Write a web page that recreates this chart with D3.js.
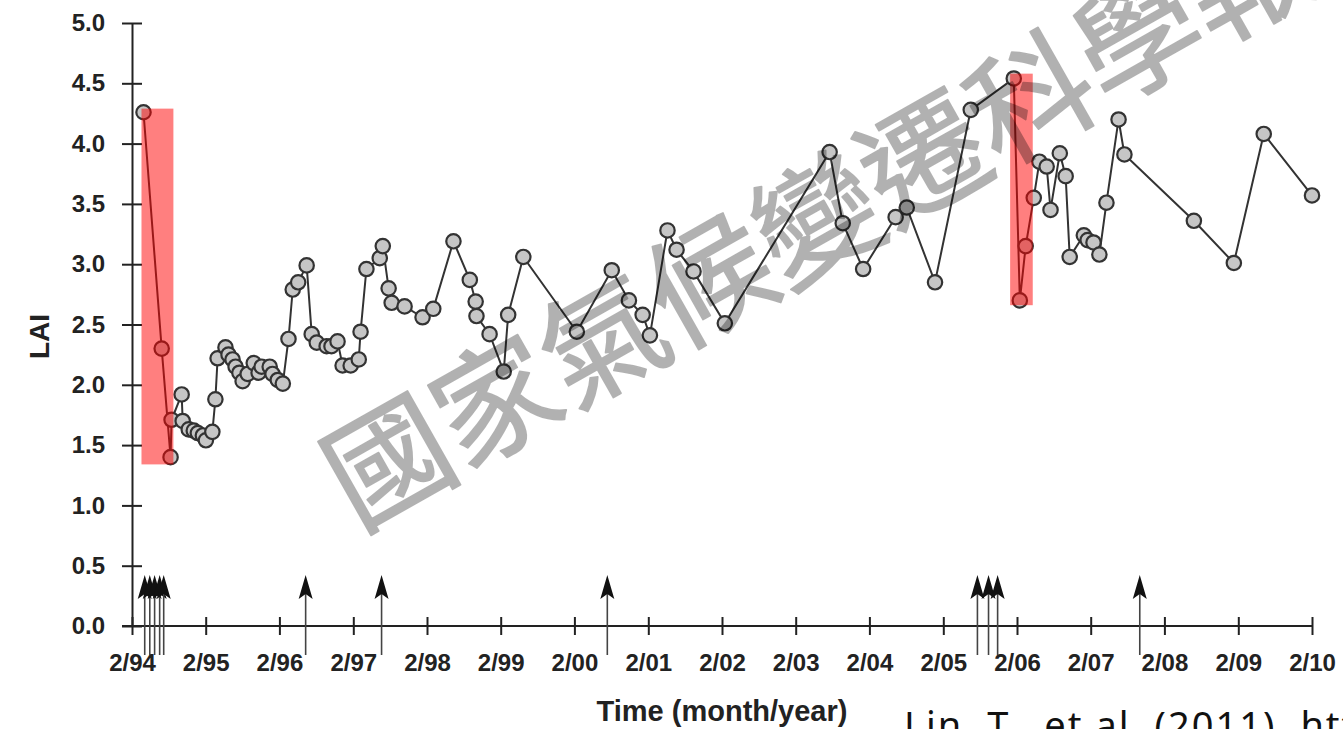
<!DOCTYPE html>
<meta charset="utf-8">
<script src="https://d3js.org/d3.v7.min.js"></script>
<style>
  body { margin: 0; background: #fff; overflow: hidden; }
  .axis text { font-family: "Liberation Sans", Arial, sans-serif; font-weight: bold; font-size: 24px; fill: #222; }
  .axis path, .axis line { stroke: #222; stroke-width: 2; }
  .pt { fill: #c6c6c6; stroke: #333; stroke-width: 2.2; }
</style>
<svg id="chart" width="1343" height="729"></svg>

<script>
  // sampling dates and LAI
  var sampleDates = [
    "1994-03-30", "1994-06-28", "1994-08-11", "1994-08-16", "1994-10-05", "1994-10-10",
    "1994-11-09", "1994-12-04", "1994-12-24", "1995-01-18", "1995-02-02", "1995-03-06",
    "1995-03-21", "1995-04-01", "1995-05-10", "1995-05-25", "1995-06-14", "1995-06-29",
    "1995-07-18", "1995-08-03", "1995-08-28", "1995-09-27", "1995-10-21", "1995-11-05",
    "1995-12-15", "1995-12-29", "1996-01-24", "1996-02-18", "1996-03-17", "1996-04-07",
    "1996-05-04", "1996-06-15", "1996-07-10", "1996-08-04", "1996-09-22", "1996-10-16",
    "1996-11-15", "1996-12-10", "1997-01-19", "1997-02-28", "1997-03-09", "1997-04-07",
    "1997-06-12", "1997-06-27", "1997-07-26", "1997-08-10", "1997-10-13", "1998-01-10",
    "1998-03-04", "1998-06-12", "1998-09-01", "1998-09-30", "1998-10-04", "1998-12-08",
    "1999-02-16", "1999-03-10", "1999-05-24", "2000-02-13", "2000-08-04", "2000-10-28",
    "2001-01-04", "2001-02-09", "2001-05-07", "2001-06-21", "2001-09-13", "2002-02-15",
    "2003-07-19", "2003-09-22", "2004-01-01", "2004-06-10", "2004-08-04", "2004-12-22",
    "2005-06-17", "2006-01-16", "2006-02-15", "2006-03-16", "2006-04-25", "2006-05-23",
    "2006-06-28", "2006-07-17", "2006-09-01", "2006-09-30", "2006-10-20", "2006-12-29",
    "2007-01-17", "2007-02-15", "2007-03-16", "2007-04-20", "2007-06-19", "2007-07-18",
    "2008-06-26", "2009-01-10", "2009-06-07", "2010-02-01"
  ];
  var laiValues = [
    4.26, 2.30, 1.40, 1.71, 1.92, 1.70,
    1.63, 1.62, 1.60, 1.58, 1.54, 1.61,
    1.88, 2.22, 2.31, 2.25, 2.21, 2.15,
    2.10, 2.03, 2.09, 2.18, 2.10, 2.15,
    2.15, 2.09, 2.04, 2.01, 2.38, 2.79,
    2.85, 2.99, 2.42, 2.35, 2.32, 2.32,
    2.36, 2.16, 2.16, 2.21, 2.44, 2.96,
    3.05, 3.15, 2.80, 2.68, 2.65, 2.56,
    2.63, 3.19, 2.87, 2.69, 2.57, 2.42,
    2.11, 2.58, 3.06, 2.44, 2.95, 2.70,
    2.58, 2.41, 3.28, 3.12, 2.94, 2.51,
    3.93, 3.34, 2.96, 3.39, 3.47, 2.85,
    4.28, 4.54, 2.70, 3.15, 3.55, 3.85,
    3.81, 3.45, 3.92, 3.73, 3.06, 3.24,
    3.20, 3.18, 3.08, 3.51, 4.20, 3.91,
    3.36, 3.01, 4.08, 3.57
  ];

  // event arrows along the time axis
  var arrowDates = [
    "1994-04-05", "1994-04-30", "1994-05-24", "1994-06-18", "1994-07-08",
    "1996-06-10", "1997-06-21", "2000-07-13",
    "2005-07-20", "2005-09-13", "2005-10-28", "2007-10-02"
  ];

  // highlighted drops
  var hlStart = ["1994-03-20", "2005-12-29"];
  var hlEnd = ["1994-08-25", "2006-04-20"];
  var hlLow = [1.34, 2.66];
  var hlHigh = [4.29, 4.58];

  var xTickLabels = ["2/94", "2/95", "2/96", "2/97", "2/98", "2/99", "2/00", "2/01", "2/02",
    "2/03", "2/04", "2/05", "2/06", "2/07", "2/08", "2/09", "2/10"];
  var yTicks = [0, 0.5, 1, 1.5, 2, 2.5, 3, 3.5, 4, 4.5, 5];

  var svg = d3.select("#chart");
  var parseDay = d3.timeParse("%Y-%m-%d");
  var parseTick = d3.timeParse("%m/%y");

  var tickDates = xTickLabels.map(parseTick);
  var x = d3.scaleTime()
    .domain([tickDates[0], tickDates[tickDates.length - 1]])
    .range([132, 1312]);
  var y = d3.scaleLinear().domain([0, 5]).range([626, 23]);

  var data = sampleDates.map(function (d, i) { return { date: parseDay(d), lai: laiValues[i] }; });

  // axes
  var yAxis = svg.append("g")
    .attr("class", "axis")
    .attr("transform", "translate(" + x.range()[0] + ",0)")
    .call(d3.axisLeft(y).tickValues(yTicks).tickFormat(d3.format(".1f"))
      .tickSizeInner(10).tickSizeOuter(0).tickPadding(17));
  yAxis.selectAll(".tick line").attr("x1", 10);

  var xAxis = svg.append("g")
    .attr("class", "axis")
    .attr("transform", "translate(0," + y(0) + ")")
    .call(d3.axisBottom(x).tickValues(tickDates)
      .tickFormat(function (d, i) { return xTickLabels[i]; })
      .tickSizeInner(9).tickSizeOuter(0).tickPadding(19));
  xAxis.selectAll(".tick line").attr("y1", -9);
  xAxis.select(".domain").attr("d", "M" + (x.range()[0] - 10) + ",0H" + x.range()[1]);

  svg.append("text")
    .attr("transform", "translate(49," + y(2.4) + ") rotate(-90)")
    .attr("text-anchor", "middle")
    .style("font-family", "Liberation Sans, Arial, sans-serif")
    .style("font-weight", "bold")
    .style("font-size", "28px")
    .style("fill", "#222")
    .text("LAI");

  svg.append("text")
    .attr("x", 722)
    .attr("y", 721)
    .attr("text-anchor", "middle")
    .style("font-family", "Liberation Sans, Arial, sans-serif")
    .style("font-weight", "bold")
    .style("font-size", "29px")
    .style("fill", "#222")
    .text("Time (month/year)");

  // series
  var line = d3.line()
    .x(function (d) { return x(d.date); })
    .y(function (d) { return y(d.lai); });

  svg.append("path")
    .datum(data)
    .attr("d", line)
    .attr("fill", "none")
    .attr("stroke", "#333")
    .attr("stroke-width", 2);

  svg.append("g")
    .selectAll("circle")
    .data(data)
    .enter()
    .append("circle")
    .attr("class", "pt")
    .attr("cx", function (d) { return x(d.date); })
    .attr("cy", function (d) { return y(d.lai); })
    .attr("r", 7.2);

  // arrows
  var arrows = svg.append("g")
    .selectAll("g")
    .data(arrowDates.map(parseDay))
    .enter()
    .append("g")
    .attr("transform", function (d) { return "translate(" + x(d) + "," + y(0) + ")"; });
  arrows.append("line")
    .attr("y1", 29)
    .attr("y2", -40)
    .attr("stroke", "#444")
    .attr("stroke-width", 1.6);
  arrows.append("path")
    .attr("d", "M0,-51L7,-27L0,-32L-7,-27Z")
    .attr("fill", "#111");

  // red highlight boxes
  svg.append("g")
    .selectAll("rect")
    .data(hlStart)
    .enter()
    .append("rect")
    .attr("x", function (d) { return x(parseDay(d)); })
    .attr("width", function (d, i) { return x(parseDay(hlEnd[i])) - x(parseDay(d)); })
    .attr("y", function (d, i) { return y(hlHigh[i]); })
    .attr("height", function (d, i) { return y(hlLow[i]) - y(hlHigh[i]); })
    .attr("fill", "red")
    .attr("fill-opacity", 0.5);

  // watermark, group opacity so fill and stroke blend once
  svg.append("g")
    .attr("opacity", 0.3)
    .append("text")
    .attr("transform", "translate(388,460) rotate(-29.5)")
    .attr("x", -62)
    .attr("y", 47)
    .style("font-family", "Noto Sans CJK TC")
    .style("font-size", "123px")
    .style("fill", "#000")
    .style("stroke", "#000")
    .style("stroke-width", 1.8)
    .style("stroke-linejoin", "round")
    .text("國家氣候變遷科學報告");

  svg.append("text")
    .attr("x", 904)
    .attr("y", 739)
    .style("font-family", "Noto Sans, sans-serif")
    .style("font-size", "38px")
    .style("letter-spacing", "2px")
    .style("fill", "#111")
    .text("Lin, T., et al. (2011). https://doi.org");

</script>
